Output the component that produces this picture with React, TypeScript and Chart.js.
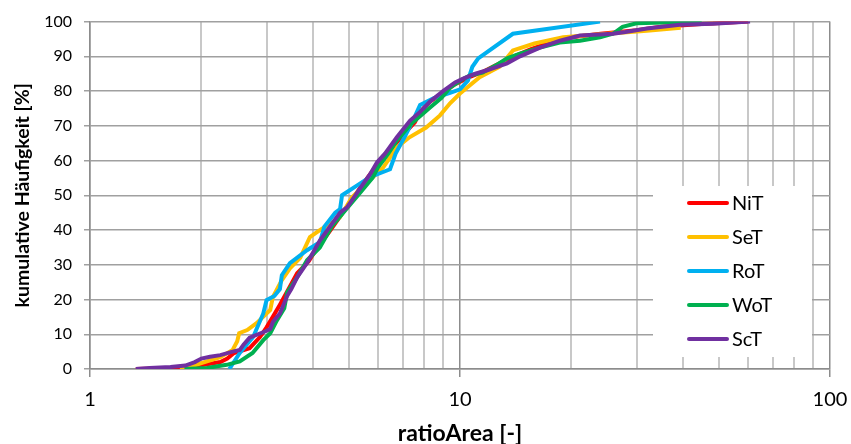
import React, { useEffect, useRef } from "react";
import { Chart, registerables } from "chart.js";

Chart.register(...registerables);

// ---- data (ratioArea [-], cumulative frequency [%]) ----
const NiT: [number, number][] = [
  [1.33, 0], [1.6, 0.2], [1.8, 0.5], [2.0, 1.1], [2.25, 2], [2.35, 3], [2.45, 4.6], [2.7, 6],
  [2.88, 9.2], [3.0, 12], [3.12, 15], [3.26, 18.5], [3.4, 22], [3.63, 27.6], [3.9, 31], [4.12, 35],
  [4.4, 39], [4.75, 44], [5.05, 48], [5.4, 52.5], [5.8, 57], [6.1, 60], [6.6, 64], [7.1, 68],
  [7.55, 71], [7.8, 74], [8.3, 77], [9.0, 79.5], [9.7, 82], [10.6, 84], [11.5, 85.5], [12.8, 88],
  [14, 90], [15.5, 92], [17.5, 94], [20, 95.5], [24, 96.5], [30, 97.5], [35, 98.5], [45, 99.3], [60, 100],
];

const SeT: [number, number][] = [
  [1.75, 0], [1.85, 0.5], [2.0, 1.7], [2.25, 3.4], [2.43, 5.5], [2.5, 8], [2.53, 10.3], [2.66, 11.2],
  [2.82, 13.2], [2.97, 15.5], [3.07, 17], [3.12, 20.7], [3.3, 25.6], [3.47, 29], [3.7, 32], [3.93, 38],
  [4.18, 40], [4.74, 43.7], [5.1, 49.4], [5.7, 54.3], [6.2, 58], [6.75, 63.8], [7.3, 66.7], [8.1, 69.5],
  [8.83, 73], [9.4, 76.5], [10.0, 79.3], [11.3, 84], [12.8, 87], [13.9, 91.7], [15.9, 93.7],
  [19, 95.5], [25, 96.5], [32, 97.4], [39.5, 98.2],
];

const RoT: [number, number][] = [
  [2.38, 0], [2.54, 4.6], [2.76, 9.2], [2.94, 16], [3.0, 19.8], [3.15, 21], [3.26, 23], [3.3, 27],
  [3.47, 30.5], [3.86, 34.2], [4.18, 36.5], [4.3, 41], [4.6, 45], [4.74, 46], [4.8, 50], [5.3, 53],
  [5.7, 55.2], [6.47, 57.5], [6.7, 62], [7.1, 67], [7.5, 72], [7.8, 76], [8.5, 78], [9.4, 79.5],
  [10.0, 80.5], [10.5, 83], [10.8, 87], [11.2, 89.4], [13.9, 96.5], [23.9, 100],
];

const WoT: [number, number][] = [
  [1.8, 0], [2.07, 0.3], [2.34, 1.2], [2.54, 2.2], [2.75, 4.6], [2.94, 8.3], [3.07, 10.3], [3.2, 14],
  [3.35, 17.5], [3.41, 22], [3.63, 26.4], [3.86, 31.3], [4.18, 35], [4.5, 41], [4.9, 45.7], [5.4, 51],
  [5.8, 55], [6.0, 58], [6.4, 62], [6.75, 65.8], [7.4, 70.7], [8.3, 75.3], [8.9, 78], [9.4, 81],
  [10.2, 83.5], [10.64, 84.5], [11.5, 85.3], [12.5, 87.4], [13.4, 89.4], [14.53, 90.8], [16.45, 92.5],
  [18.6, 94], [21.1, 94.5], [23.9, 95.5], [25.9, 96.5], [27.5, 98.5], [30, 99.5], [45, 100],
];

const ScT: [number, number][] = [
  [1.33, 0], [1.45, 0.3], [1.65, 0.6], [1.81, 1], [1.92, 2], [2.0, 3], [2.11, 3.5], [2.25, 4],
  [2.43, 5], [2.54, 5.5], [2.6, 7], [2.7, 9], [2.97, 10.8], [3.07, 11.5], [3.12, 13.5], [3.26, 16],
  [3.41, 21], [3.5, 23], [3.63, 26.4], [3.86, 30.5], [4.18, 37], [4.45, 41], [4.74, 45], [4.95, 46.5],
  [5.37, 52], [5.71, 56], [5.97, 59.5], [6.27, 62], [6.75, 66.7], [7.33, 71.5], [7.8, 74], [8.3, 77],
  [9.0, 80], [9.7, 82.5], [10.2, 83.6], [11.0, 85], [11.83, 86], [13.4, 88], [14.53, 90], [16.45, 92.5],
  [18.63, 94.5], [21.1, 96], [25.9, 96.5], [28, 97], [32, 98], [39.3, 99.1], [48.3, 99.4], [60.8, 100],
];

const seriesNames = ["NiT", "SeT", "RoT", "WoT", "ScT"];
const seriesData = [NiT, SeT, RoT, WoT, ScT];
const seriesColors = ["#ff0000", "#ffc000", "#00b0f0", "#00b050", "#7030a0"];

const xTickValues = [1, 2, 3, 4, 5, 6, 7, 8, 9, 10, 20, 30, 40, 50, 60, 70, 80, 90, 100];
const xMajorTicks = [1, 10, 100];
const yTickStep = 10;

const FONT = "Lato, 'Open Sans', 'Liberation Sans', sans-serif";

const boxLegend = {
  id: "boxLegend",
  afterDraw(chart: any) {
    const { ctx, chartArea } = chart;
    const x0 = chartArea.right - 177;
    const y0 = chartArea.bottom - 183;
    ctx.save();
    ctx.fillStyle = "#ffffff";
    ctx.fillRect(x0, y0, 159, 171);
    ctx.font = `20px ${FONT}`;
    ctx.textBaseline = "middle";
    ctx.textAlign = "left";
    seriesNames.forEach((name, i) => {
      const y = y0 + 17 + i * 34;
      ctx.strokeStyle = seriesColors[i];
      ctx.lineWidth = 4;
      ctx.lineCap = "round";
      ctx.beginPath();
      ctx.moveTo(x0 + 36, y);
      ctx.lineTo(x0 + 74, y);
      ctx.stroke();
      ctx.fillStyle = "#000000";
      ctx.fillText(name, x0 + 79, y + 1);
    });
    ctx.restore();
  },
};

export default function App() {
  const ref = useRef<HTMLCanvasElement | null>(null);

  useEffect(() => {
    document.body.style.margin = "0";
    if (!ref.current) return;
    const chart = new Chart(ref.current, {
      type: "line",
      data: {
        datasets: seriesNames.map((name, i) => ({
          label: name,
          data: seriesData[i].map(([x, y]) => ({ x, y })),
          borderColor: seriesColors[i],
          backgroundColor: seriesColors[i],
          borderWidth: 4,
          pointRadius: 0,
          tension: 0,
          fill: false,
          order: seriesNames.length - i,
        })),
      },
      options: {
        responsive: false,
        animation: false,
        layout: { padding: { top: 21, right: 21, left: 0, bottom: 0 } },
        plugins: { legend: { display: false }, tooltip: { enabled: false } },
        scales: {
          x: {
            type: "logarithmic",
            position: "bottom",
            min: 1,
            max: 100,
            afterBuildTicks: (s: any) => {
              s.ticks = xTickValues.map((v) => ({ value: v, major: xMajorTicks.includes(v) }));
            },
            afterFit: (s: any) => {
              s.height = 75;
              s.paddingLeft = 0;
              s.paddingRight = 0;
            },
            ticks: {
              autoSkip: false,
              maxRotation: 0,
              padding: 11,
              color: "#000",
              font: { family: FONT, size: 20 },
              callback: (v: any) => (xMajorTicks.includes(Number(v)) ? String(v) : ""),
            },
            grid: {
              color: (c: any) => (c.tick && xMajorTicks.includes(c.tick.value) ? "#8c8c8c" : "#c8c8c8"),
              lineWidth: (c: any) => (c.tick && xMajorTicks.includes(c.tick.value) ? 1.5 : 2),
              tickColor: (c: any) => (c.tick && xMajorTicks.includes(c.tick.value) ? "#8c8c8c" : "rgba(0,0,0,0)"),
              tickLength: 8,
            },
            border: { color: "#8c8c8c", width: 1.5 },
            title: {
              display: true,
              text: "ratioArea [-]",
              color: "#000",
              font: { family: FONT, size: 23, weight: "bold" },
              padding: { top: 0, bottom: -3 },
            },
          },
          y: {
            min: 0,
            max: 100,
            afterFit: (s: any) => {
              s.width = 90;
            },
            ticks: {
              stepSize: yTickStep,
              padding: 12,
              color: "#000",
              font: { family: FONT, size: 16 },
            },
            grid: { color: "#a0a0a0", lineWidth: 1.5, tickLength: 6 },
            border: { color: "#8c8c8c", width: 1.5 },
            title: {
              display: true,
              text: "kumulative Häufigkeit [%]",
              color: "#000",
              font: { family: FONT, size: 19.5, weight: "bold" },
              padding: { top: 11, bottom: 0 },
            },
          },
        },
      },
      plugins: [boxLegend],
    } as any);
    return () => chart.destroy();
  }, []);

  return <canvas ref={ref} width={851} height={444} style={{ display: "block" }} />;
}
